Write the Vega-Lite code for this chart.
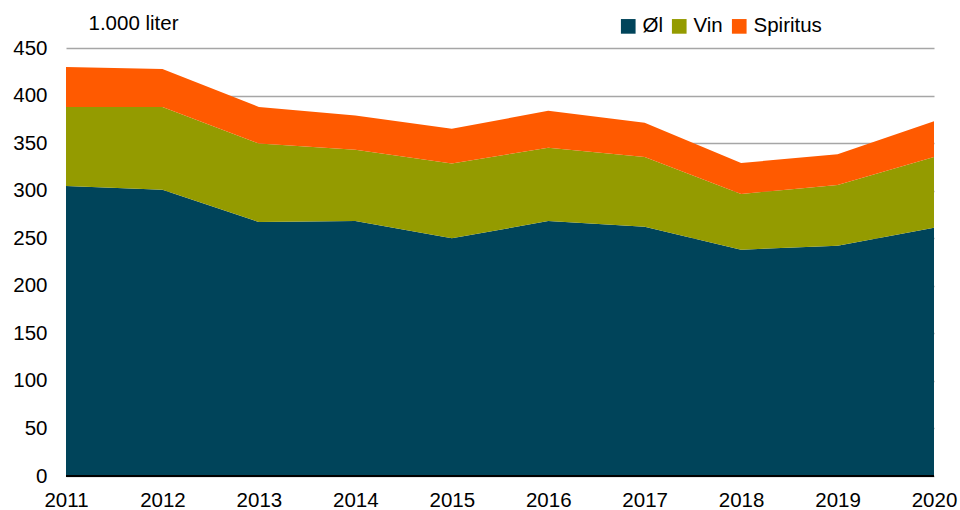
{
  "$schema": "https://vega.github.io/schema/vega-lite/v6.json",
  "width": 868,
  "height": 428,
  "autosize": {"type": "none"},
  "padding": {"left": 66, "top": 48, "right": 26, "bottom": 34},
  "background": "white",
  "config": {
    "font": "Liberation Sans",
    "view": {"stroke": null}
  },
  "data": {
    "values": [
      {"year": 2011, "type": "Øl", "k": 1, "value": 305},
      {"year": 2012, "type": "Øl", "k": 1, "value": 301},
      {"year": 2013, "type": "Øl", "k": 1, "value": 267},
      {"year": 2014, "type": "Øl", "k": 1, "value": 268},
      {"year": 2015, "type": "Øl", "k": 1, "value": 250},
      {"year": 2016, "type": "Øl", "k": 1, "value": 268},
      {"year": 2017, "type": "Øl", "k": 1, "value": 262},
      {"year": 2018, "type": "Øl", "k": 1, "value": 238},
      {"year": 2019, "type": "Øl", "k": 1, "value": 242},
      {"year": 2020, "type": "Øl", "k": 1, "value": 261},
      {"year": 2011, "type": "Vin", "k": 2, "value": 83},
      {"year": 2012, "type": "Vin", "k": 2, "value": 87},
      {"year": 2013, "type": "Vin", "k": 2, "value": 82.5},
      {"year": 2014, "type": "Vin", "k": 2, "value": 75},
      {"year": 2015, "type": "Vin", "k": 2, "value": 78.6},
      {"year": 2016, "type": "Vin", "k": 2, "value": 77},
      {"year": 2017, "type": "Vin", "k": 2, "value": 73.4},
      {"year": 2018, "type": "Vin", "k": 2, "value": 58.5},
      {"year": 2019, "type": "Vin", "k": 2, "value": 64},
      {"year": 2020, "type": "Vin", "k": 2, "value": 74.4},
      {"year": 2011, "type": "Spiritus", "k": 3, "value": 42},
      {"year": 2012, "type": "Spiritus", "k": 3, "value": 40},
      {"year": 2013, "type": "Spiritus", "k": 3, "value": 38.5},
      {"year": 2014, "type": "Spiritus", "k": 3, "value": 36},
      {"year": 2015, "type": "Spiritus", "k": 3, "value": 36.4},
      {"year": 2016, "type": "Spiritus", "k": 3, "value": 39},
      {"year": 2017, "type": "Spiritus", "k": 3, "value": 36},
      {"year": 2018, "type": "Spiritus", "k": 3, "value": 32.6},
      {"year": 2019, "type": "Spiritus", "k": 3, "value": 32.4},
      {"year": 2020, "type": "Spiritus", "k": 3, "value": 37.5}
    ]
  },
  "layer": [
    {
      "mark": {"type": "area", "interpolate": "linear"},
      "encoding": {
        "x": {
          "field": "year",
          "type": "quantitative",
          "scale": {"domain": [2011, 2020], "nice": false, "zero": false},
          "axis": {
            "values": [2011, 2012, 2013, 2014, 2015, 2016, 2017, 2018, 2019, 2020],
            "format": "d",
            "title": null,
            "grid": false,
            "domain": false,
            "ticks": false,
            "labelFontSize": 20.5,
            "labelColor": "#000000",
            "labelPadding": 14,
            "labelFlush": false
          }
        },
        "y": {
          "field": "value",
          "type": "quantitative",
          "stack": "zero",
          "scale": {"domain": [0, 450], "nice": false},
          "axis": {
            "values": [0, 50, 100, 150, 200, 250, 300, 350, 400, 450],
            "title": "1.000 liter",
            "titleAngle": 0,
            "titleAlign": "left",
            "titleBaseline": "alphabetic",
            "titleX": 22,
            "titleY": -19,
            "titleFontSize": 20.5,
            "titleFontWeight": "normal",
            "titleColor": "#000000",
            "grid": true,
            "gridColor": "#A6A6A6",
            "gridWidth": 1.5,
            "domain": false,
            "ticks": false,
            "labelFontSize": 20.5,
            "labelColor": "#000000",
            "labelPadding": 19
          }
        },
        "color": {
          "field": "type",
          "type": "nominal",
          "scale": {"domain": ["Øl", "Vin", "Spiritus"], "range": ["#00445A", "#949B00", "#FF5A00"]},
          "legend": {
            "title": null,
            "orient": "none",
            "direction": "horizontal",
            "legendX": 552,
            "legendY": -32,
            "symbolType": "square",
            "symbolSize": 215,
            "symbolStrokeWidth": 0,
            "labelFontSize": 20.5,
            "labelColor": "#000000",
            "labelOffset": 4,
            "columnPadding": 6
          }
        },
        "order": {"field": "k", "type": "quantitative"}
      }
    },
    {
      "mark": {"type": "rule", "color": "#000000", "strokeWidth": 2},
      "encoding": {"y": {"datum": 0}}
    }
  ]
}
